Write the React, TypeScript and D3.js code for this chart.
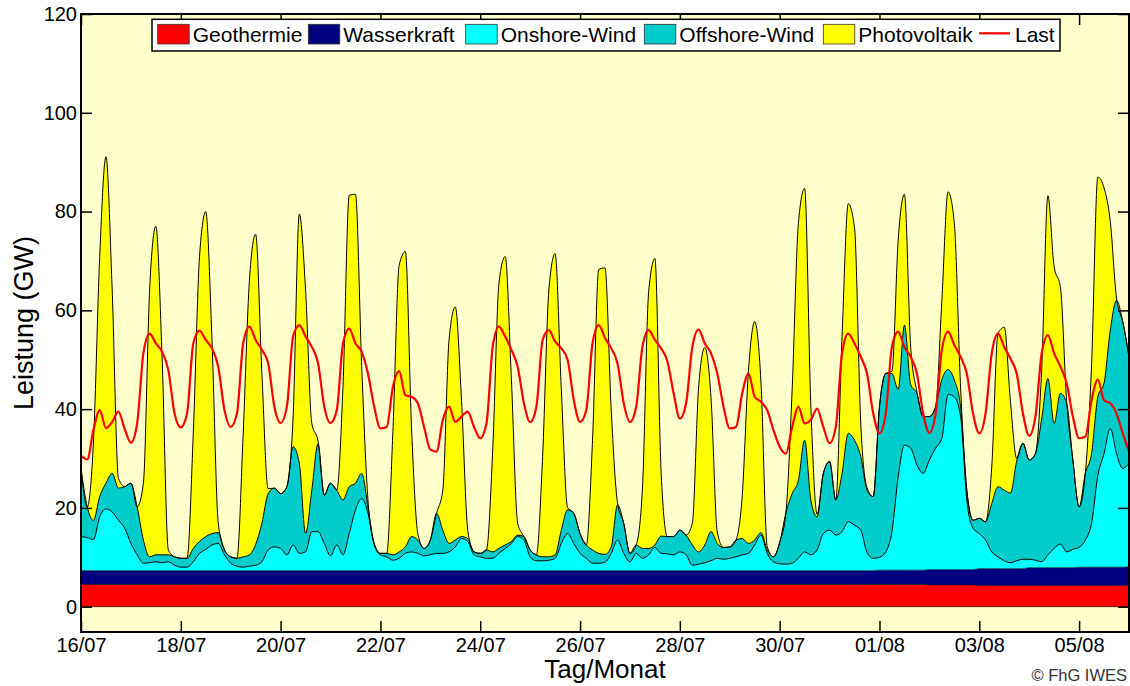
import React, { useEffect, useRef } from 'react';
import * as d3 from 'd3';

// Beschriftung der Zeitachse (jeder zweite Tag)
const dayLabels = ['16/07', '18/07', '20/07', '22/07', '24/07', '26/07', '28/07', '30/07', '01/08', '03/08', '05/08'];

// Tageswerte in GW, 16/07 .. 06/08
const geothermie = [4.5, 4.5, 4.5, 4.5, 4.5, 4.5, 4.5, 4.5, 4.5, 4.5, 4.5, 4.5, 4.5, 4.5, 4.5, 4.5, 4.5, 4.4, 4.3, 4.3, 4.3, 4.3];
const wasserkraft = [2.8, 2.8, 2.8, 2.8, 2.8, 2.8, 2.8, 2.8, 2.8, 2.8, 2.8, 2.8, 2.8, 2.8, 2.8, 2.8, 2.9, 3.1, 3.4, 3.6, 3.7, 3.8];

// 3-Stunden-Werte in GW, 16/07 00:00 .. 06/08 00:00 (eine Zeile pro Tag)
const onshoreWind = [
  6.9, 6.7, 6.3, 10.9, 12.5, 11.9, 10.2, 8.6,
  5.5, 3.2, 1.5, 1.6, 1.8, 1.6, 1.8, 1.1,
  0.7, 0.7, 1.8, 3.5, 4.3, 5.2, 5.5, 3.2,
  1.5, 0.9, 0.7, 0.9, 1.1, 1.8, 4.2, 4.8,
  4.5, 3.2, 5.2, 3.5, 3.8, 7.9, 7.9, 5.5,
  3.0, 5.2, 3.2, 7.5, 12.3, 14.6, 11.6, 5.2,
  3.2, 2.8, 2.1, 2.5, 3.5, 3.8, 3.5, 3.0,
  3.2, 3.5, 3.5, 3.8, 4.8, 6.5, 5.9, 3.2,
  2.8, 2.5, 2.5, 3.5, 4.5, 5.5, 6.9, 6.2,
  2.8, 2.0, 2.0, 2.1, 2.5, 5.5, 7.5, 5.5,
  3.5, 2.5, 1.5, 1.5, 1.7, 3.5, 6.2, 3.5,
  1.8, 3.5, 2.5, 3.2, 4.7, 3.5, 3.4, 3.2,
  3.8, 3.2, 1.1, 1.3, 1.6, 2.0, 2.5, 2.3,
  2.5, 2.8, 3.2, 3.5, 5.2, 7.2, 3.5, 1.8,
  1.4, 1.3, 1.5, 2.5, 3.8, 3.2, 4.2, 7.5,
  8.2, 7.2, 7.9, 9.9, 9.2, 8.2, 3.7, 2.5,
  2.6, 3.7, 7.8, 18.9, 25.3, 24.7, 21.3, 19.6,
  22.2, 24.6, 26.6, 35.5, 35.0, 31.0, 14.1, 8.4,
  7.1, 5.8, 3.4, 2.4, 1.6, 1.2, 1.6, 1.9,
  1.7, 1.5, 1.2, 2.6, 3.9, 4.8, 3.2, 3.7,
  4.0, 5.5, 8.9, 18.5, 23.0, 28.1, 23.0, 20.0,
  20.9,
];

const offshoreWind = [
  13.8, 6.2, 3.9, 4.1, 5.2, 7.8, 6.5, 8.4,
  12.2, 9.7, 4.7, 1.2, 1.4, 1.6, 1.4, 1.7,
  1.8, 1.8, 2.7, 2.4, 2.6, 2.3, 2.2, 1.0,
  1.3, 1.6, 2.1, 2.3, 4.2, 7.8, 11.4, 11.9,
  11.1, 13.8, 19.9, 18.2, 3.7, 8.4, 17.8, 9.8,
  14.7, 11.1, 11.1, 9.5, 5.4, 5.1, 1.3, 0.3,
  0.3, 0.7, 1.1, 1.3, 1.3, 3.1, 2.7, 1.5,
  3.0, 8.1, 4.7, 1.7, 1.4, 0.4, 0.6, 0.6,
  0.7, 1.7, 1.3, 1.0, 0.7, 0.4, 0.3, 0.7,
  1.4, 1.2, 0.8, 0.7, 0.7, 2.7, 4.8, 6.1,
  4.0, 2.7, 2.7, 2.0, 1.6, 1.3, 7.1, 6.1,
  1.7, 1.7, 2.0, 1.3, 0.5, 3.5, 3.5, 3.7,
  4.4, 4.0, 4.1, 2.5, 3.6, 5.9, 3.0, 2.4,
  2.3, 3.4, 3.3, 2.0, 1.0, 0.5, 0.7, 1.0,
  4.3, 10.4, 14.1, 15.8, 22.6, 11.1, 6.7, 12.2,
  13.9, 7.1, 11.8, 17.9, 17.2, 14.9, 12.6, 12.5,
  30.5, 36.1, 32.0, 17.7, 24.3, 12.9, 14.5, 11.5,
  8.8, 8.4, 11.9, 5.0, 3.4, 2.0, 2.0, 1.6,
  3.1, 3.7, 9.8, 14.2, 14.3, 14.1, 20.2, 23.5,
  20.1, 21.6, 28.9, 35.7, 25.3, 30.5, 30.1, 18.1,
  8.2, 13.5, 14.1, 16.0, 14.3, 19.9, 31.0, 29.7,
  21.6,
];

const photovoltaik = [
  0, 0, 16, 48.6, 66.1, 37.1, 2, 0,
  0, 0, 11.5, 54, 66.5, 40, 1, 0,
  0, 0, 23.3, 57.7, 65.8, 39.2, 1.9, 0,
  0, 0, 25, 55.6, 62.8, 30.3, 1, 0,
  0, 0, 6, 50.5, 49.3, 13.5, 0.5, 0,
  0, 0, 23, 59, 58.5, 21.6, 1.4, 0,
  0, 0, 25, 58, 59.8, 21.6, 1.3, 0,
  0, 0, 8.1, 41.2, 47.2, 27.6, 1.7, 0,
  0, 0, 20.6, 53.7, 58.4, 32.7, 2.4, 0,
  0, 0, 20.3, 54, 61, 28.4, 0.5, 0,
  0, 0, 22.2, 57.5, 58, 27.6, 0.5, 0,
  0, 0, 12, 52, 58, 12.8, 0, 0,
  0, 0, 4.4, 33.2, 40, 27, 2.3, 0,
  0, 0, 8.7, 35, 44.2, 30.5, 0.7, 0,
  0, 0, 21, 52, 51, 19, 0.5, 0,
  0, 0, 27.7, 46.5, 43, 6.7, 0.5, 0,
  0, 0, 0.5, 30.2, 26.5, 7.6, 0.3, 0,
  0, 0, 16, 36, 31.7, 4, 0, 0,
  0, 0, 7.4, 31, 33, 18.5, 0.5, 0,
  0, 0, 10, 37, 31.7, 21.6, 0.5, 0,
  0, 0, 18, 44.5, 39.5, 22, 0.5, 0,
  0,
];

const last = [
  30.6, 29.8, 35.8, 39.8, 36.2, 37.4, 39.5, 36.0,
  33.2, 37.1, 51.3, 55.3, 53.3, 51.6, 47.9, 39.1,
  36.3, 39.1, 53.3, 55.9, 54.0, 52.3, 48.6, 39.8,
  36.4, 39.1, 53.3, 56.7, 54.0, 52.0, 49.3, 40.5,
  37.2, 40.5, 54.7, 57.0, 54.7, 52.6, 49.3, 40.5,
  37.2, 39.8, 53.3, 56.3, 53.3, 51.6, 47.2, 40.5,
  36.1, 36.4, 44.5, 47.7, 42.8, 42.5, 41.2, 36.4,
  31.8, 31.4, 37.8, 40.5, 37.4, 38.5, 39.5, 36.4,
  34.1, 37.1, 52.6, 56.7, 54.7, 52.0, 48.6, 41.2,
  37.4, 40.5, 54.0, 56.0, 53.7, 52.3, 50.0, 41.8,
  37.4, 39.8, 53.3, 57.0, 54.4, 52.3, 49.3, 41.2,
  37.4, 40.5, 52.6, 56.0, 54.0, 52.3, 49.7, 43.2,
  38.1, 41.2, 52.6, 56.1, 53.3, 51.3, 47.2, 40.5,
  36.1, 36.4, 43.2, 47.2, 42.5, 41.5, 39.8, 35.8,
  32.4, 31.0, 36.4, 40.5, 37.1, 37.8, 40.1, 36.4,
  33.1, 36.4, 51.3, 55.3, 53.3, 50.6, 47.2, 39.1,
  35.1, 39.1, 52.6, 55.7, 52.6, 50.6, 47.2, 39.1,
  35.2, 39.1, 52.0, 55.7, 53.0, 50.6, 47.2, 39.1,
  35.1, 39.1, 51.3, 55.3, 52.6, 50.2, 47.2, 39.1,
  34.6, 38.5, 51.3, 55.0, 51.3, 48.6, 45.3, 38.5,
  34.1, 34.4, 41.8, 46.0, 41.8, 41.2, 39.1, 35.1,
  31.4,
];

const layerNames = ['Geothermie', 'Wasserkraft', 'Onshore-Wind', 'Offshore-Wind', 'Photovoltaik'];
const layerColors = ['#FF0000', '#000080', '#00FFFF', '#00CCCC', '#FFFF00'];

const WIDTH = 1130;
const HEIGHT = 686;
const FONT = "'Liberation Sans', Arial, Helvetica, sans-serif";

const EnergyChart = () => {
  const chartRef = useRef(null);

  useEffect(() => {
    const svg = d3.select(chartRef.current);
    svg.selectAll('*').remove();

    const left = 81, right = 1129, top = 14, bottom = 632;

    const x = d3.scaleLinear().domain([0, 504]).range([left, right]);
    const y = d3.scaleLinear().domain([0, 120]).range([606.7, top]);

    // Hintergrund der Zeichenfläche
    svg.append('rect')
      .attr('x', left).attr('y', top)
      .attr('width', right - left).attr('height', bottom - top)
      .attr('fill', '#FFFFCC');

    svg.append('defs').append('clipPath').attr('id', 'plot-clip')
      .append('rect')
      .attr('x', left).attr('y', top)
      .attr('width', right - left).attr('height', bottom - top);

    const rows = last.map((_, i) => {
      const day = Math.floor(i / 8);
      return {
        hour: i * 3,
        'Geothermie': geothermie[day],
        'Wasserkraft': wasserkraft[day],
        'Onshore-Wind': onshoreWind[i],
        'Offshore-Wind': offshoreWind[i],
        'Photovoltaik': photovoltaik[i],
      };
    });

    const stacked = d3.stack().keys(layerNames)(rows);

    const area = d3.area()
      .x(d => x(d.data.hour))
      .y0(d => y(d[0]))
      .y1(d => y(d[1]))
      .curve(d3.curveMonotoneX);

    const edge = d3.line()
      .x(d => x(d.data.hour))
      .y(d => y(d[1]))
      .curve(d3.curveMonotoneX);

    const g = svg.append('g').attr('clip-path', 'url(#plot-clip)');

    g.selectAll('path.layer')
      .data(stacked)
      .enter().append('path')
      .attr('class', 'layer')
      .attr('d', area)
      .attr('fill', (d, i) => layerColors[i]);

    g.selectAll('path.edge')
      .data(stacked)
      .enter().append('path')
      .attr('class', 'edge')
      .attr('d', edge)
      .attr('fill', 'none')
      .attr('stroke', '#000')
      .attr('stroke-width', (d, i) => (i < 2 ? 0.6 : 1));

    g.append('line')
      .attr('x1', left).attr('x2', right)
      .attr('y1', y(0)).attr('y2', y(0))
      .attr('stroke', '#000').attr('stroke-width', 0.6);

    const lastLine = d3.line()
      .x((d, i) => x(i * 3))
      .y(d => y(d))
      .curve(d3.curveMonotoneX);

    g.append('path')
      .datum(last)
      .attr('d', lastLine)
      .attr('fill', 'none')
      .attr('stroke', '#FF0000')
      .attr('stroke-width', 2.2)
      .attr('stroke-linejoin', 'round');

    // Achsen mit nach innen zeigenden Strichen
    const yTicks = d3.range(0, 121, 20);
    const xTicks = dayLabels.map((_, i) => i * 48);

    const styleAxis = sel => {
      sel.select('.domain').remove();
      sel.selectAll('line').attr('stroke-width', 1.5);
      sel.selectAll('text')
        .style('font-family', FONT)
        .style('font-size', '20px')
        .attr('fill', '#000');
    };

    svg.append('g')
      .attr('transform', `translate(${left},0)`)
      .call(d3.axisLeft(y).tickValues(yTicks).tickSizeInner(-11).tickSizeOuter(0).tickPadding(4))
      .call(styleAxis);

    svg.append('g')
      .attr('transform', `translate(${right},0)`)
      .call(d3.axisRight(y).tickValues(yTicks).tickSizeInner(-11).tickSizeOuter(0).tickFormat(() => ''))
      .call(styleAxis);

    svg.append('g')
      .attr('transform', `translate(0,${bottom})`)
      .call(d3.axisBottom(x).tickValues(xTicks).tickSizeInner(-11).tickSizeOuter(0).tickPadding(6)
        .tickFormat((d, i) => dayLabels[i]))
      .call(styleAxis);

    svg.append('g')
      .attr('transform', `translate(0,${top})`)
      .call(d3.axisTop(x).tickValues(xTicks).tickSizeInner(-11).tickSizeOuter(0).tickFormat(() => ''))
      .call(styleAxis);

    // Rahmen
    svg.append('rect')
      .attr('x', left).attr('y', top)
      .attr('width', right - left).attr('height', bottom - top)
      .attr('fill', 'none')
      .attr('stroke', '#000')
      .attr('stroke-width', 2);

    // Legende
    const legend = svg.append('g');
    legend.append('rect')
      .attr('x', 152).attr('y', 19.3)
      .attr('width', 908).attr('height', 31.7)
      .attr('fill', '#fff')
      .attr('stroke', '#000')
      .attr('stroke-width', 1.5);

    const swatchX = [157.7, 308.3, 465.7, 644.3, 823.3];
    layerNames.forEach((name, i) => {
      legend.append('rect')
        .attr('x', swatchX[i]).attr('y', 24.3)
        .attr('width', 31.5).attr('height', 19.7)
        .attr('fill', layerColors[i])
        .attr('stroke', '#333')
        .attr('stroke-width', 0.8);
      legend.append('text')
        .attr('x', swatchX[i] + 35).attr('y', 41.5)
        .style('font-family', FONT)
        .style('font-size', '21px')
        .text(name);
    });
    legend.append('line')
      .attr('x1', 979).attr('x2', 1010)
      .attr('y1', 33.3).attr('y2', 33.3)
      .attr('stroke', '#FF0000')
      .attr('stroke-width', 2.2);
    legend.append('text')
      .attr('x', 1015).attr('y', 41.5)
      .style('font-family', FONT)
      .style('font-size', '21px')
      .text('Last');

    // Achsentitel
    svg.append('text')
      .attr('transform', `translate(33,${(top + bottom) / 2}) rotate(-90)`)
      .attr('text-anchor', 'middle')
      .style('font-family', FONT)
      .style('font-size', '27px')
      .text('Leistung (GW)');

    svg.append('text')
      .attr('x', (left + right) / 2).attr('y', 678)
      .attr('text-anchor', 'middle')
      .style('font-family', FONT)
      .style('font-size', '26px')
      .text('Tag/Monat');

    svg.append('text')
      .attr('x', 1127).attr('y', 681)
      .attr('text-anchor', 'end')
      .attr('fill', '#333')
      .style('font-family', FONT)
      .style('font-size', '16.5px')
      .text('© FhG IWES');
  }, []);

  return (
    <svg
      ref={chartRef}
      width={WIDTH}
      height={HEIGHT}
      style={{ position: 'absolute', left: 0, top: 0, background: '#fff' }}
    />
  );
};

export default function App() {
  return <EnergyChart />;
}
